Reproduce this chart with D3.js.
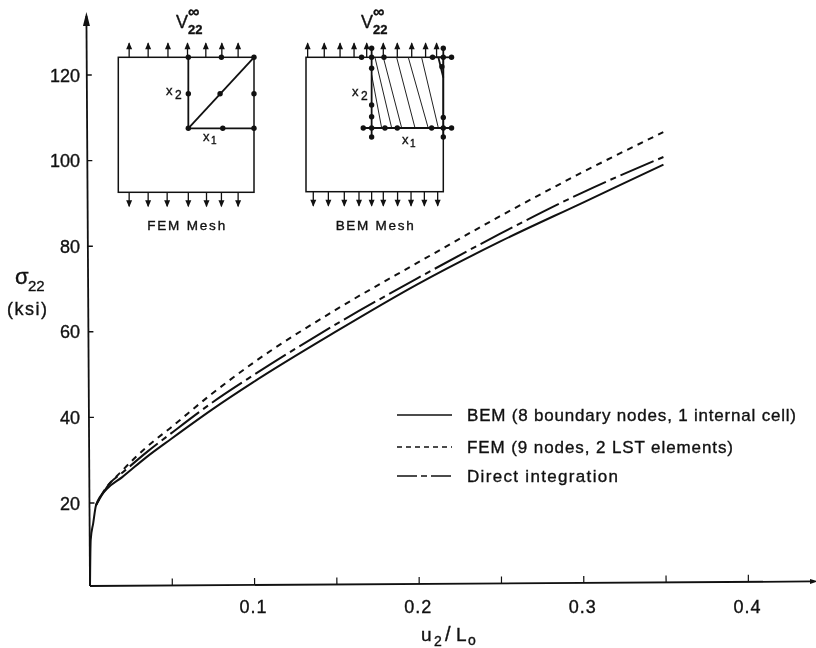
<!DOCTYPE html>
<html><head><meta charset="utf-8">
<script src="https://cdnjs.cloudflare.com/ajax/libs/d3/7.8.5/d3.min.js"></script>
<style>
html,body{margin:0;padding:0;background:#fff}
svg{display:block;filter:blur(.35px)}
text{font-family:"Liberation Sans",Arial,sans-serif;fill:#111;stroke:#111;stroke-width:.35}
</style></head><body><div id="c"></div>
<script>
// strain u2/L0 vs stress (ksi)
const bemX=[0,0.0006,0.0022,0.004,0.0105,0.02,0.035,0.05,0.075,0.1,0.15,0.2,0.25,0.3,0.35];
const bemY=[0.6,11.4,15.3,19.5,23.2,26,30.7,34.9,41.7,48,59.6,70.6,80.4,89.3,98.2];
const femX=[0.004,0.0085,0.02,0.035,0.05,0.075,0.1,0.15,0.2,0.25,0.3,0.35];
const femY=[19.5,22.6,27.5,33,37.6,45.4,52.5,64.7,75.6,86.3,96.4,105.8];
const dirX=[0.004,0.0125,0.02,0.035,0.05,0.075,0.1,0.15,0.2,0.25,0.3,0.35];
const dirY=[19.5,24.6,27,31.8,36.2,43.3,49.6,61.3,72,82.2,91.7,100];
const xTicks=[0.05,0.1,0.15,0.2,0.25,0.3,0.35,0.4];
const xLabels=[0.1,0.2,0.3,0.4];
const yTicks=[20,40,60,80,100,120];
const legendNames=["BEM (8 boundary nodes, 1 internal cell)","FEM (9 nodes, 2 LST elements)","Direct integration"];
const dashes=[null,"6 5.5","36 5 6 5"];

// insets, in fractions of each square
const femArrowsTop=[.08,.22,.366,.51,.645,.763,.883];
const femArrowsBottom=[.08,.22,.36,.516,.65,.76,.883];
const femNodes=[[.516,0],[.76,0],[1,0],[.516,.27],[.75,.27],[1,.27],[.516,.526],[.77,.526],[1,.526]];
const femLines=[[.516,0,.516,.526],[.516,.526,1,.526],[1,0,.516,.526]];
const bemArrowsTop=[.012,.133,.248,.35,.442,.563,.665,.77,.871,.951];
const bemArrowsBottom=[.053,.163,.279,.386,.478,.563,.667,.765,.862,.959];
const bemNodes=[[.405,0],[.478,0],[.568,0],[.922,0],[1,0],[1.06,0],[.478,-.067],[1,-.067],[.478,.082],[.478,.355],[.478,.442],[.478,.526],[.478,.593],[.417,.526],[.575,.526],[.665,.526],[.915,.526],[1,.526],[1.06,.526],[1,.447],[1,.593],[.99,.07]];
const bemLines=[[.478,-.067,.478,.593],[1,-.067,1,.593],[.417,.526,1.06,.526],[.9,0,1.06,0],[.964,0,1,.15]];
const bemHatch=[[.478,.13,.551,.526],[.502,0,.624,.526],[.563,0,.697,.526],[.66,0,.794,.526],[.745,0,.89,.526],[.842,0,.964,.526]];

const W=816,H=648;
const svg=d3.select("#c").append("svg").attr("width",W).attr("height",H);
svg.append("rect").attr("width",W).attr("height",H).attr("fill","#fff");

const ox=90, oy=586;
const x=d3.scaleLinear().domain([0,0.4]).range([ox,ox+658.4]);
const y=d3.scaleLinear().domain([0,120]).range([588.6,75]);
const plot=svg.append("g").attr("transform",`rotate(-0.36 ${ox} ${oy})`);

// axes
const ax=plot.append("g").attr("stroke","#111").attr("fill","none");
ax.append("line").attr("x1",ox).attr("x2",812).attr("y1",oy).attr("y2",oy).attr("stroke-width",1.8);
ax.append("line").attr("x1",ox).attr("x2",ox).attr("y1",oy).attr("y2",16).attr("stroke-width",1.8);
ax.append("path").attr("d",`M${ox-3.5},26L${ox},12L${ox+3.5},26Z`).attr("fill","#111").attr("stroke","none");
ax.append("path").attr("d",`M810,${oy-2.5}L818,${oy}L810,${oy+2.5}Z`).attr("fill","#111").attr("stroke","none");
ax.selectAll(".xt").data(xTicks).join("line").attr("x1",d=>x(d)).attr("x2",d=>x(d)).attr("y1",oy).attr("y2",oy-7).attr("stroke-width",1.2);
ax.selectAll(".yt").data(yTicks).join("line").attr("x1",ox).attr("x2",ox+5).attr("y1",d=>y(d)).attr("y2",d=>y(d)).attr("stroke-width",1.4);

// curves
const line=d3.line().x(d=>x(d[0])).y(d=>y(d[1])).curve(d3.curveMonotoneX);
[[bemX,bemY],[femX,femY],[dirX,dirY]].forEach(([xs,ys],i)=>{
  plot.append("path").attr("d",line(xs.map((v,k)=>[v,ys[k]]))).attr("fill","none")
    .attr("stroke","#111").attr("stroke-width",2)
    .attr("stroke-dasharray",dashes[i]);
});

// tick labels
svg.selectAll(".yl").data(yTicks).join("text").attr("x",80).attr("y",d=>y(d)+6.5).attr("text-anchor","end").attr("font-size",18).text(d=>d);
svg.selectAll(".xl").data(xLabels).join("text").attr("x",d=>x(d)-1).attr("y",613).attr("text-anchor","middle").attr("font-size",18).attr("letter-spacing",1).text(d=>d3.format(".1f")(d));

function t(g,px,py,s,size,extra){
  const e=g.append("text").attr("x",px).attr("y",py).attr("font-size",size).text(s);
  if(extra) Object.entries(extra).forEach(([k,v])=>e.attr(k,v));
  return e;
}
t(svg,15,284,"σ",22);
t(svg,28,291,"22",15);
t(svg,7,315,"(ksi)",18,{"letter-spacing":1.5});
t(svg,421,641,"u",19);
t(svg,434,646,"2",14);
t(svg,445,641,"/",20);
t(svg,456,641,"L",19);
t(svg,468,645,"o",14);

// legend
const legendY=[415,447,476];
const lg=svg.append("g");
legendNames.forEach((s,i)=>{
  lg.append("line").attr("x1",397).attr("x2",452).attr("y1",legendY[i]).attr("y2",legendY[i])
    .attr("stroke","#111").attr("stroke-width",1.6).attr("stroke-dasharray",i==1?"5 4":i==2?"20 4 6 4":null);
  t(lg,467,legendY[i]+6,s,17,{textLength:[329,266,151][i],lengthAdjust:"spacing"});
});

// insets
function inset(left,right,top,bottom,at,ab,nodes,lines,hatch,name,vx,x1,x2){
  const g=svg.append("g");
  const ix=d3.scaleLinear().domain([0,1]).range([left,right]);
  const iy=d3.scaleLinear().domain([0,1]).range([top,bottom]);
  g.append("rect").attr("x",left).attr("y",top).attr("width",right-left).attr("height",bottom-top).attr("fill","none").attr("stroke","#111").attr("stroke-width",1.5);
  g.selectAll(".h").data(hatch).join("line").attr("x1",d=>ix(d[0])).attr("y1",d=>iy(d[1])).attr("x2",d=>ix(d[2])).attr("y2",d=>iy(d[3])).attr("stroke","#222").attr("stroke-width",1);
  g.selectAll(".l").data(lines).join("line").attr("x1",d=>ix(d[0])).attr("y1",d=>iy(d[1])).attr("x2",d=>ix(d[2])).attr("y2",d=>iy(d[3])).attr("stroke","#111").attr("stroke-width",1.8);
  [[at,top,-1],[ab,bottom,1]].forEach(([arr,base,s])=>{
    g.selectAll(".a").data(arr).join("line").attr("x1",d=>ix(d)).attr("x2",d=>ix(d)).attr("y1",base).attr("y2",base+s*14).attr("stroke","#111").attr("stroke-width",1.3);
    g.selectAll(".b").data(arr).join("path").attr("d",d=>`M${ix(d)-3},${base+s*8}L${ix(d)},${base+s*15}L${ix(d)+3},${base+s*8}Z`).attr("fill","#111");
  });
  g.selectAll(".n").data(nodes).join("circle").attr("cx",d=>ix(d[0])).attr("cy",d=>iy(d[1])).attr("r",2.7).attr("fill","#111");
  t(g,vx,28,"V",18);
  t(g,vx+12,34,"22",13,{"font-weight":"bold"});
  t(g,vx+12,17,"∞",16,{"font-weight":"bold"});
  t(g,x1[0],x1[1],"x",13);t(g,x1[0]+8,x1[1]+3,"1",10);
  t(g,x2[0],x2[1],"x",13);t(g,x2[0]+9,x2[1]+4,"2",12);
  t(g,(left+right)/2,230,name,13.5,{"text-anchor":"middle","textLength":78,"lengthAdjust":"spacing"});
}
inset(118.3,254,57.3,192.3,femArrowsTop,femArrowsBottom,femNodes,femLines,[],"FEM Mesh",176,[203,141],[166,95]);
inset(306,443.3,57.3,191.7,bemArrowsTop,bemArrowsBottom,bemNodes,bemLines,bemHatch,"BEM Mesh",361,[402,144],[352,96]);
</script></body></html>
